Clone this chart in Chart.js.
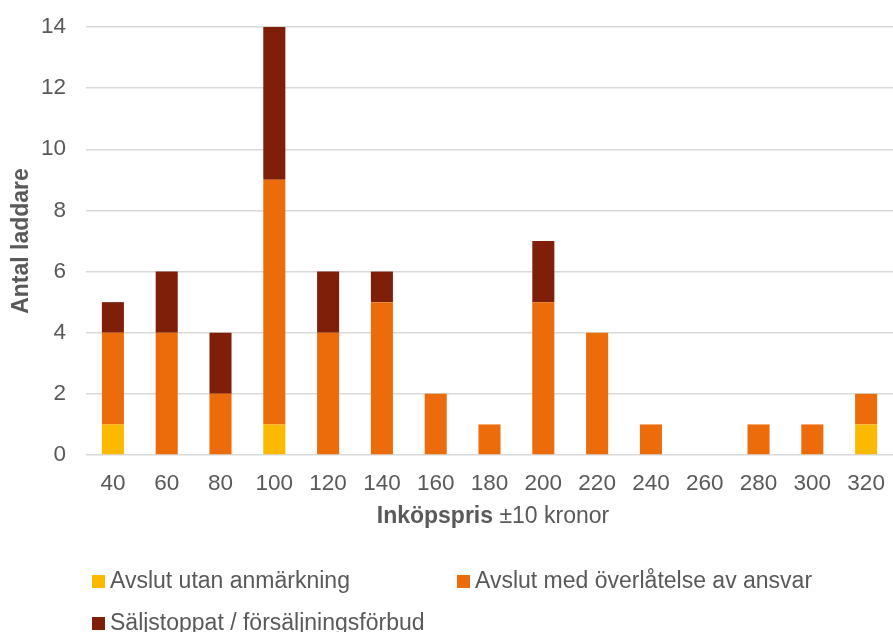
<!DOCTYPE html>
<html>
<head>
<meta charset="utf-8">
<script src="https://cdn.jsdelivr.net/npm/chart.js@4/dist/chart.umd.min.js"></script>
<style>
  html, body { margin: 0; padding: 0; background: #fff; overflow: hidden; }
  #wrap { position: relative; width: 893px; height: 632px; overflow: hidden; font-family: "Liberation Sans", Arial, sans-serif; color: #595959; }
  #chart { position: absolute; left: 0; top: 0; }
  #xtitle { position: absolute; left: 0; width: 986px; top: 503px; text-align: center; font-size: 23px; line-height: 24px; white-space: nowrap; }
  .leg { position: absolute; font-size: 23px; line-height: 24px; white-space: nowrap; }
  .leg span { display: inline-block; width: 13px; height: 13px; margin-right: 5px; vertical-align: 0px; }
</style>
</head>
<body>
<div id="wrap">
  <canvas id="chart" width="900" height="632"></canvas>
  <div id="xtitle"><b>Inköpspris</b> ±10 kronor</div>
  <div id="legend"></div>
</div>
<script>
const categories = ["40", "60", "80", "100", "120", "140", "160", "180", "200", "220", "240", "260", "280", "300", "320"];
const utanAnmarkning = [1, 0, 0, 1, 0, 0, 0, 0, 0, 0, 0, 0, 0, 0, 1];
const overlatelse = [3, 4, 2, 8, 4, 5, 2, 1, 5, 4, 1, 0, 1, 1, 1];
const saljstopp = [1, 2, 2, 5, 2, 1, 0, 0, 2, 0, 0, 0, 0, 0, 0];
const yTicks = [0, 2, 4, 6, 8, 10, 12, 14];

const seriesNames = ["Avslut utan anmärkning", "Avslut med överlåtelse av ansvar", "Säljstoppat / försäljningsförbud"];
const seriesColors = ["#FBBA00", "#EC6C0B", "#7F1F0A"];

const textColor = "#595959";
const fontFamily = "'Liberation Sans', Arial, sans-serif";

const ds = (i, data) => ({
    label: seriesNames[i],
    data: data,
    backgroundColor: seriesColors[i],
    borderWidth: 0,
    barPercentage: 0.41,
    categoryPercentage: 1
});

new Chart(document.getElementById("chart").getContext("2d"), {
    type: "bar",
    data: {
        labels: categories,
        datasets: [ds(0, utanAnmarkning), ds(1, overlatelse), ds(2, saljstopp)]
    },
    options: {
        responsive: false,
        animation: false,
        layout: { padding: { left: 8, right: 3, top: 27, bottom: 120 } },
        plugins: { legend: { display: false }, tooltip: { enabled: false } },
        scales: {
            x: {
                stacked: true,
                grid: { display: false, drawTicks: false },
                border: { display: false },
                ticks: { color: textColor, font: { family: fontFamily, size: 22.5 }, padding: 15, maxRotation: 0 }
            },
            y: {
                stacked: true,
                min: 0,
                max: 14,
                afterBuildTicks: axis => { axis.ticks = yTicks.map(v => ({ value: v })); },
                afterFit: axis => { axis.width = 78; axis.paddingTop = 0; },
                grid: { color: "#D9D9D9", lineWidth: 1.5, drawTicks: false },
                border: { display: false },
                ticks: { color: textColor, font: { family: fontFamily, size: 22.5 }, padding: 20 },
                title: { display: true, text: "Antal laddare", color: textColor, font: { family: fontFamily, size: 23, weight: "bold" }, padding: { top: 0, bottom: 0 } }
            }
        }
    }
});

// legend laid out like the original (two columns, left aligned)
const legendPos = [[92, 568], [457, 568], [92, 610]];
const legend = document.getElementById("legend");
seriesNames.forEach((name, i) => {
    const d = document.createElement("div");
    d.className = "leg";
    d.style.left = legendPos[i][0] + "px";
    d.style.top = legendPos[i][1] + "px";
    d.innerHTML = '<span style="background:' + seriesColors[i] + '"></span>' + name;
    legend.appendChild(d);
});
</script>
</body>
</html>
